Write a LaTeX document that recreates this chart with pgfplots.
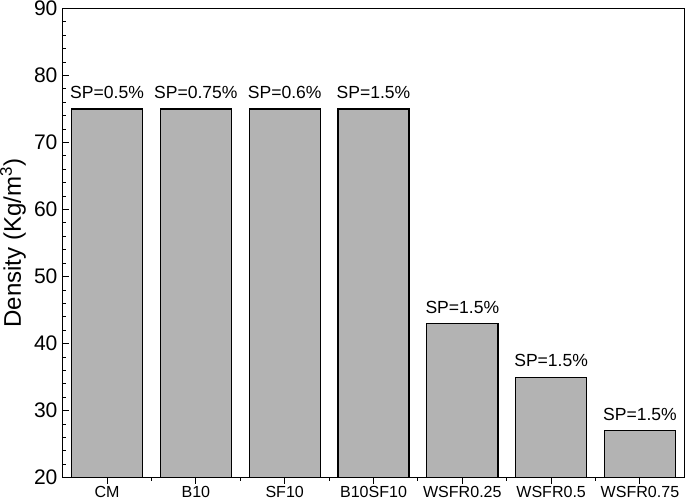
\documentclass[border=0pt]{standalone}
\usepackage{fontspec}
\setmainfont{Liberation Sans}
\usepackage{pgfplots}
\pgfplotsset{compat=1.18}
\definecolor{barfill}{RGB}{179,179,179}
\begin{document}
\begin{tikzpicture}
\begin{axis}[
 scale only axis, width=620pt, height=468pt,
 xmin=-0.5, xmax=6.5, ymin=20, ymax=90,
 ytick={20,30,...,90}, minor y tick num=4,
 xtick={0,...,6}, xticklabels={CM,B10,SF10,B10SF10,WSFR0.25,WSFR0.5,WSFR0.75},
 minor x tick num=1,
 tick pos=left, tick align=inside,
 major tick length=6pt, minor tick length=3pt,
 every tick/.style={black, line width=1pt},
 axis line style={line width=1.3pt},
 /pgf/number format/assume math mode=true,
 yticklabel style={font=\fontsize{21}{21}\selectfont, inner ysep=1pt, inner xsep=5pt},
 xticklabel style={font=\fontsize{16}{16}\selectfont, inner sep=0pt, text depth=3pt, yshift=-2pt},
 ylabel={Density (Kg/m\textsuperscript{3})},
 ylabel shift=3pt,
 ylabel style={font=\fontsize{24}{24}\selectfont, inner sep=0pt},
 ybar, bar width=0.8,
 nodes near coords={\pgfplotspointmeta},
 point meta=explicit symbolic,
 nodes near coords style={font=\fontsize{17.5}{17.5}\selectfont, black, yshift=6pt},
]
\addplot[fill=barfill, draw=black, line width=1.3pt] coordinates {
 (0,75) [SP=0.5\%]
 (1,75) [SP=0.75\%]
 (2,75) [SP=0.6\%]
 (3,75) [SP=1.5\%]
 (4,43) [SP=1.5\%]
 (5,35) [SP=1.5\%]
 (6,27) [SP=1.5\%]
};
\end{axis}
\end{tikzpicture}
\end{document}
